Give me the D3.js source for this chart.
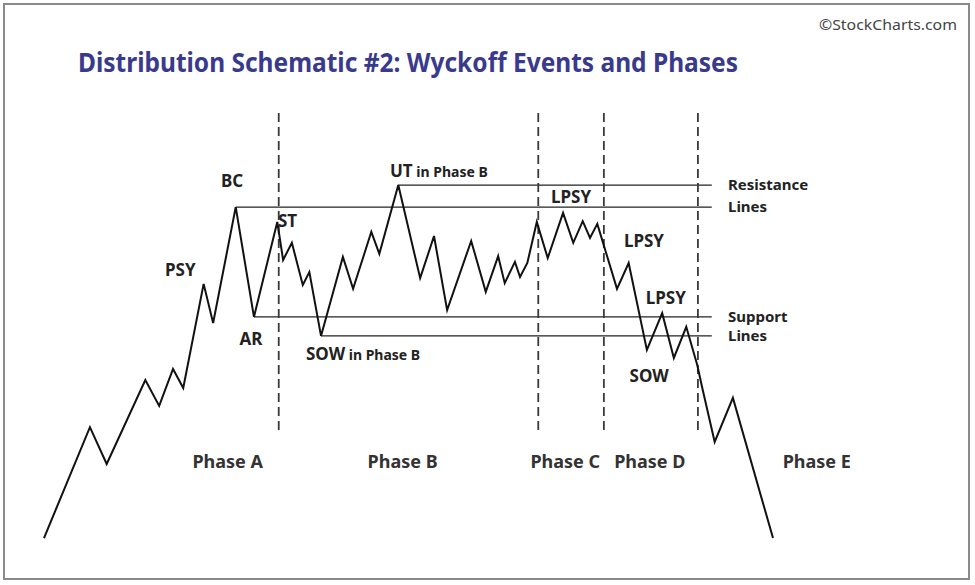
<!DOCTYPE html>
<html>
<head>
<meta charset="utf-8">
<script src="https://cdn.jsdelivr.net/npm/d3@7"></script>
<style>
  html, body { margin: 0; padding: 0; background: #fff; }
  svg { display: block; }
</style>
</head>
<body>
<svg id="chart" width="975" height="585"></svg>
<script>
// ---- DATA ----
const times  = [0, 6.3, 8.6, 13.9, 15.8, 17.7, 19.1, 21.9, 23.2, 26.3, 28.8, 32.0, 32.8, 34.0, 35.5, 36.4, 38.0, 41.0, 42.4, 44.9, 46.0, 48.6, 51.6, 53.5, 55.3, 58.6, 60.6, 62.3, 63.2, 64.6, 65.3, 66.3, 67.6, 69.1, 71.2, 72.6, 73.9, 74.9, 75.9, 78.6, 80.2, 82.7, 84.8, 86.4, 88.1, 89.6, 90.3, 92.0, 94.5, 100];
const prices = [0.5, 29.7, 20.0, 42.1, 35.3, 45.0, 40.0, 67.4, 57.1, 87.6, 58.7, 83.7, 73.7, 78.2, 67.1, 70.5, 53.7, 74.5, 66.1, 81.1, 75.3, 93.4, 68.9, 80.0, 60.5, 78.7, 65.3, 74.7, 67.6, 73.2, 69.2, 72.9, 83.7, 74.2, 86.1, 78.2, 83.9, 79.5, 83.2, 66.1, 72.9, 50.0, 59.7, 47.9, 56.1, 46.1, 40.0, 25.8, 37.4, 0.5];

// resistance / support levels: price and start time
const levelPrices = [93.4, 87.6, 58.7, 53.7];
const levelStarts = [48.6, 26.3, 28.8, 38.0];
const levelEnd = 91.6;
const levelCaptions = ["Resistance", "Lines", "Support", "Lines"];

// phase boundaries (time)
const phaseBounds = [32.2, 67.8, 76.8, 89.7];
const phaseNames = ["Phase A", "Phase B", "Phase C", "Phase D", "Phase E"];
const phaseCenters = [25.2, 49.2, 71.5, 83.1, 106.0];

// event labels
const eventNames  = ["BC", "PSY", "AR", "ST", "LPSY", "LPSY", "LPSY", "SOW"];
const eventTimes  = [25.8, 18.7, 28.4, 33.4, 72.3, 82.3, 85.3, 83.0];
const eventPrices = [93.0, 69.5, 51.3, 82.5, 88.7, 77.1, 62.1, 41.6];

// ---- CHART ----
const svg = d3.select("#chart");
const x = d3.scaleLinear().domain([0, 100]).range([44, 773]);
const y = d3.scaleLinear().domain([0, 100]).range([540, 160]);

// frame
svg.append("rect").attr("x", 4).attr("y", 4).attr("width", 965).attr("height", 575)
  .attr("fill", "#fff").attr("stroke", "#8a8a8a").attr("stroke-width", 2);

// title
svg.append("text").attr("x", 78).attr("y", 72)
  .attr("font-family", "Noto Sans").attr("font-weight", "bold").attr("font-size", 26)
  .attr("fill", "#3a3a8c")
  .attr("textLength", 660).attr("lengthAdjust", "spacingAndGlyphs")
  .text("Distribution Schematic #2: Wyckoff Events and Phases");

// copyright
svg.append("text").attr("x", 957).attr("y", 30).attr("text-anchor", "end")
  .attr("font-family", "Noto Sans").attr("font-size", 14).attr("fill", "#444")
  .attr("textLength", 138).attr("lengthAdjust", "spacingAndGlyphs")
  .text("\u00A9StockCharts.com");

// level lines
levelPrices.forEach((p, i) => {
  svg.append("line")
    .attr("x1", x(levelStarts[i])).attr("x2", x(levelEnd))
    .attr("y1", y(p)).attr("y2", y(p))
    .attr("stroke", "#222").attr("stroke-width", 1.3);
});

// phase dashed lines
phaseBounds.forEach(t => {
  svg.append("line")
    .attr("x1", x(t)).attr("x2", x(t))
    .attr("y1", y(112.4)).attr("y2", y(28.4))
    .attr("stroke", "#3a3a3a").attr("stroke-width", 1.8)
    .attr("stroke-dasharray", "9,5");
});

// price line
const pts = times.map((t, i) => [t, prices[i]]);
svg.append("path")
  .attr("d", d3.line().x(d => x(d[0])).y(d => y(d[1]))(pts))
  .attr("fill", "none").attr("stroke", "#111").attr("stroke-width", 2)
  .attr("stroke-linejoin", "miter");

// event labels
const lbl = svg.append("g").attr("font-family", "Noto Sans").attr("font-weight", "bold")
  .attr("fill", "#222").attr("font-size", 17);
eventNames.forEach((n, i) => {
  lbl.append("text").attr("x", x(eventTimes[i])).attr("y", y(eventPrices[i]))
    .attr("text-anchor", "middle").text(n);
});

// UT in Phase B
const ut = lbl.append("text").attr("x", 390).attr("y", y(95.5));
ut.append("tspan").text("UT");
ut.append("tspan").attr("font-size", 14).text(" in Phase B");
// SOW in Phase B
const sw = lbl.append("text").attr("x", 306).attr("y", y(47.4));
sw.append("tspan").text("SOW");
sw.append("tspan").attr("font-size", 14).text(" in Phase B");

// level captions
const cap = svg.append("g").attr("font-family", "Noto Sans").attr("font-weight", "bold")
  .attr("fill", "#222").attr("font-size", 15);
levelCaptions.forEach((c, i) => {
  cap.append("text").attr("x", 728).attr("y", y(levelPrices[i])).attr("dy", "0.35em").text(c);
});

// phase labels
const ph = svg.append("g").attr("font-family", "Noto Sans").attr("font-weight", "bold")
  .attr("fill", "#333").attr("font-size", 18);
phaseNames.forEach((n, i) => {
  ph.append("text").attr("x", x(phaseCenters[i])).attr("y", 468)
    .attr("text-anchor", "middle").text(n);
});
</script>
</body>
</html>
